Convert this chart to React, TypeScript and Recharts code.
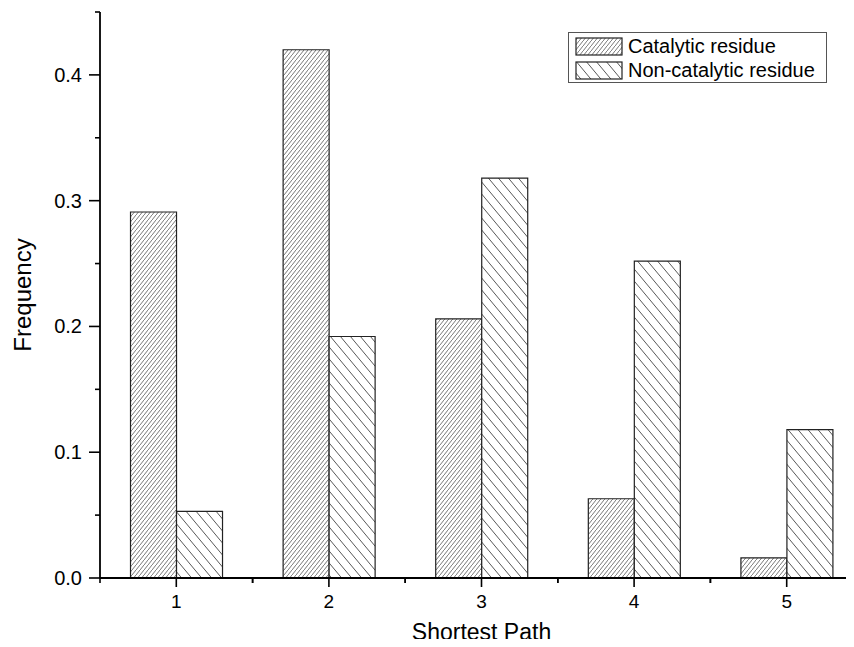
import React from 'react';
import { BarChart, Bar, XAxis, YAxis } from 'recharts';

const categories = ['1', '2', '3', '4', '5'];
const catalytic = [0.291, 0.42, 0.206, 0.063, 0.016];
const nonCatalytic = [0.053, 0.192, 0.318, 0.252, 0.118];
const yTicks = [0, 0.05, 0.1, 0.15, 0.2, 0.25, 0.3, 0.35, 0.4, 0.45];

const data = categories.map((c, i) => ({ path: c, cat: catalytic[i], non: nonCatalytic[i] }));

const W = 900;
const H = 647;
const LEFT = 100;
const RIGHT_MARGIN = 37;
const BAND = (W - LEFT - RIGHT_MARGIN) / categories.length;
const FONT = '"Liberation Sans", Arial, sans-serif';

function Patterns({ suffix = '' }: { suffix?: string }) {
  return (
    <defs>
      <pattern id={'hatchCat' + suffix} patternUnits="userSpaceOnUse" width={4} height={5}>
        <rect width={4} height={5} fill="#fff" />
        <path d="M0,5 L4,0 M-1,1 L1,-1.5 M3,6.5 L5,4" stroke="#555" strokeWidth={0.8} />
      </pattern>
      <pattern id={'hatchNon' + suffix} patternUnits="userSpaceOnUse" width={10} height={12}>
        <rect width={10} height={12} fill="#fff" />
        <path d="M0,0 L10,12 M-2,9.6 L2,14.4 M8,-2.4 L12,2.4" stroke="#444" strokeWidth={0.9} />
      </pattern>
    </defs>
  );
}

// major tick at the category, minor ticks at the band edges
function BottomTick({ x, y, payload }: any) {
  return (
    <g>
      <line x1={x} y1={y} x2={x} y2={y + 9} stroke="#000" strokeWidth={1.6} />
      <line x1={x - BAND / 2} y1={y} x2={x - BAND / 2} y2={y + 5} stroke="#000" strokeWidth={1.6} />
      <line x1={x + BAND / 2} y1={y} x2={x + BAND / 2} y2={y + 5} stroke="#000" strokeWidth={1.6} />
      <text x={x} y={y + 30} textAnchor="middle" fontSize={19} fontFamily={FONT} fill="#000">
        {payload.value}
      </text>
    </g>
  );
}

function TopTick({ x, y }: any) {
  return (
    <g>
      <line x1={x} y1={y} x2={x} y2={y + 9} stroke="#000" strokeWidth={1.6} />
      <line x1={x - BAND / 2} y1={y} x2={x - BAND / 2} y2={y + 5} stroke="#000" strokeWidth={1.6} />
      <line x1={x + BAND / 2} y1={y} x2={x + BAND / 2} y2={y + 5} stroke="#000" strokeWidth={1.6} />
    </g>
  );
}

function LeftTick({ x, y, payload }: any) {
  const major = Math.round(payload.value * 100) % 10 === 0;
  return (
    <g>
      <line x1={x} y1={y} x2={x - (major ? 11 : 5)} y2={y} stroke="#000" strokeWidth={1.6} />
      {major && (
        <text x={x - 18} y={y} dy={7} textAnchor="end" fontSize={20} fontFamily={FONT} fill="#000">
          {payload.value.toFixed(1)}
        </text>
      )}
    </g>
  );
}

function LegendBox() {
  const rows = [
    { id: 'hatchCatL', label: 'Catalytic residue' },
    { id: 'hatchNonL', label: 'Non-catalytic residue' },
  ];
  return (
    <div
      style={{
        position: 'absolute',
        left: 568,
        top: 32,
        width: 259,
        height: 51,
        border: '1px solid #555',
        boxSizing: 'border-box',
        background: '#fff',
        fontFamily: FONT,
        fontSize: 20,
        color: '#000',
        padding: '1px 0 0 6px',
        lineHeight: '23px',
      }}
    >
      <svg width={0} height={0} style={{ position: 'absolute' }}>
        <Patterns suffix="L" />
      </svg>
      {rows.map((r) => (
        <div key={r.id} style={{ display: 'flex', alignItems: 'center', height: 24, whiteSpace: 'nowrap' }}>
          <svg width={48} height={20} style={{ marginRight: 5, flexShrink: 0 }}>
            <rect x={1} y={2} width={46} height={17} fill={`url(#${r.id})`} stroke="#222" strokeWidth={1.2} />
          </svg>
          <span>{r.label}</span>
        </div>
      ))}
    </div>
  );
}

export default function App() {
  return (
    <div style={{ position: 'relative', margin: -8, width: 854, height: H, overflow: 'hidden', background: '#fff' }}>
      <BarChart
        width={W}
        height={H}
        data={data}
        margin={{ top: 12, right: RIGHT_MARGIN, bottom: 0, left: 0 }}
        barCategoryGap="20%"
        barGap={0}
      >
        <Patterns />
        <XAxis
          dataKey="path"
          height={69}
          axisLine={{ stroke: '#000', strokeWidth: 1.8 }}
          tickLine={false}
          tickSize={0}
          tickMargin={0}
          tick={<BottomTick />}
          interval={0}
          label={{ value: 'Shortest Path', position: 'insideBottom', offset: 7, style: { fontSize: 23, fontFamily: FONT, fill: '#000' } }}
        />
        <XAxis
          xAxisId="top"
          dataKey="path"
          orientation="top"
          height={0}
          axisLine={{ stroke: '#000', strokeWidth: 1.8 }}
          tickLine={false}
          tickSize={0}
          tickMargin={0}
          tick={<TopTick />}
          interval={0}
        />
        <YAxis
          width={LEFT}
          domain={[0, 0.45]}
          ticks={yTicks}
          interval={0}
          axisLine={{ stroke: '#000', strokeWidth: 1.8 }}
          tickLine={false}
          tickSize={0}
          tickMargin={0}
          tick={<LeftTick />}
          label={{ value: 'Frequency', angle: -90, position: 'insideLeft', offset: 22, style: { fontSize: 24, fontFamily: FONT, fill: '#000', textAnchor: 'middle' } }}
        />
        <Bar dataKey="cat" fill="url(#hatchCat)" stroke="#222" strokeWidth={1.2} isAnimationActive={false} />
        <Bar dataKey="non" fill="url(#hatchNon)" stroke="#222" strokeWidth={1.2} isAnimationActive={false} />
      </BarChart>
      <LegendBox />
    </div>
  );
}
